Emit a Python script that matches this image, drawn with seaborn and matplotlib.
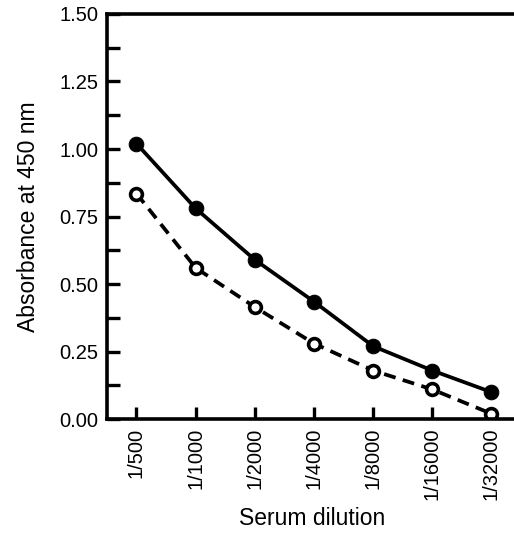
import matplotlib
matplotlib.use("Agg")
import matplotlib.pyplot as plt
import seaborn as sns
import pandas as pd
from matplotlib.ticker import MultipleLocator

dilutions = ["1/500", "1/1000", "1/2000", "1/4000", "1/8000", "1/16000", "1/32000"]
filled_vals = [1.02, 0.78, 0.59, 0.435, 0.27, 0.18, 0.10]
open_vals = [0.835, 0.56, 0.415, 0.28, 0.18, 0.11, 0.02]

sns.set_theme(style="white")
plt.rcParams['font.family'] = ['Liberation Sans', 'DejaVu Sans']
plt.rcParams['text.color'] = 'black'
plt.rcParams['axes.labelcolor'] = 'black'

df_f = pd.DataFrame({"dilution": dilutions, "abs": filled_vals})
df_o = pd.DataFrame({"dilution": dilutions, "abs": open_vals})

fig = plt.figure(figsize=(5.14, 5.36), dpi=100)
ax = fig.add_axes([0.208, 0.218, 0.80, 0.756])

sns.lineplot(data=df_f, x="dilution", y="abs", sort=False, ax=ax, color="black",
             linewidth=2.7, marker="o", markersize=10.5, markerfacecolor="black",
             markeredgecolor="black")
sns.lineplot(data=df_o, x="dilution", y="abs", sort=False, ax=ax, color="black",
             linewidth=2.7, linestyle=(0, (3.2, 2)), marker="o", markersize=8.5,
             markerfacecolor="white", markeredgecolor="black", markeredgewidth=2.6)

ax.set_xlim(-0.5, 6.45)
ax.set_ylim(0, 1.5)
ax.yaxis.set_major_locator(MultipleLocator(0.25))
ax.yaxis.set_minor_locator(MultipleLocator(0.125))
ax.set_yticklabels([f"{v:.2f}" for v in ax.get_yticks()])
ax.tick_params(axis="both", which="both", direction="in", width=2.4, length=9,
               color="black", labelsize=14.5, labelcolor="black")
ax.tick_params(axis="y", which="minor", left=True)
ax.tick_params(axis="y", which="major", pad=6)
ax.tick_params(axis="x", which="major", pad=6, labelrotation=90, bottom=True)
ax.tick_params(axis="y", left=True)

for side in ["left", "bottom", "top"]:
    ax.spines[side].set_visible(True)
    ax.spines[side].set_linewidth(2.6)
    ax.spines[side].set_color("black")
ax.spines["right"].set_visible(False)

ax.set_xlabel("Serum dilution", fontsize=16.5, labelpad=5, color="black")
ax.set_ylabel("Absorbance at 450 nm", fontsize=16.5, labelpad=14, color="black")

fig.savefig("out.png", dpi=100)
